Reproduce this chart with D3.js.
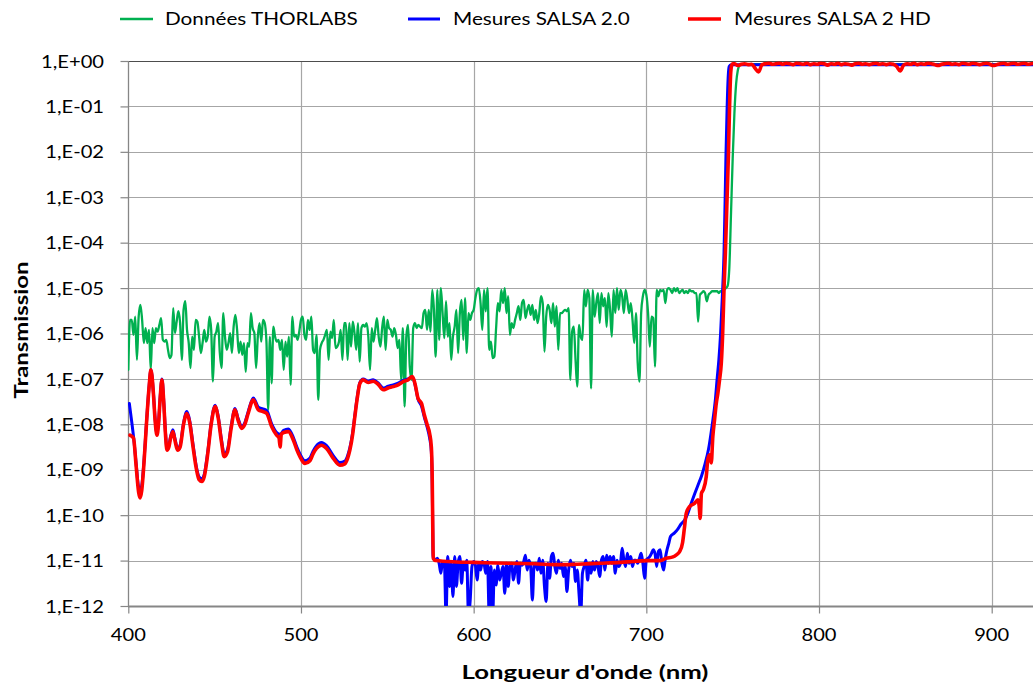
<!DOCTYPE html>
<html>
<head>
<meta charset="utf-8">
<script src="https://cdn.jsdelivr.net/npm/d3@7"></script>
<style>
  html, body { margin: 0; padding: 0; background: #ffffff; }
  svg { display: block; font-family: Lato, "Noto Sans", sans-serif; }
</style>
</head>
<body>
<svg id="chart" width="1033" height="686"></svg>
<script>
// ---------------------------------------------------------------------------
// Data (transmission given as log10 T)
// ---------------------------------------------------------------------------
const seriesNames = ["Données THORLABS", "Mesures SALSA 2.0", "Mesures SALSA 2 HD"];
const seriesColors = ["#00B050", "#0000FF", "#FF0000"];

const xTicks = [400, 500, 600, 700, 800, 900];
const yTickExponents = [0, -1, -2, -3, -4, -5, -6, -7, -8, -9, -10, -11, -12];
const yTickLabels = ["1,E+00", "1,E-01", "1,E-02", "1,E-03", "1,E-04", "1,E-05", "1,E-06",
                     "1,E-07", "1,E-08", "1,E-09", "1,E-10", "1,E-11", "1,E-12"];

// THORLABS reference curve, 1 nm sampling from 400 nm
const thorlabsStart = 400;
const thorlabsStep = 1;
const thorlabsLog = [
  -6.80,-5.70,-5.70,-6.03,-5.63,-6.58,-5.63,-5.37,-5.70,-6.21,
  -5.88,-6.21,-5.92,-6.80,-5.88,-6.21,-5.88,-5.96,-5.81,-5.66,
  -6.14,-6.18,-6.14,-6.36,-6.54,-6.47,-5.44,
  -5.99,-5.74,-5.51,-5.77,-6.58,-5.48,-5.29,-5.92,-6.21,-6.76,-6.07,-6.36,-5.70,-5.74,
  -6.07,-6.43,-6.21,-5.92,-6.18,-6.07,-5.63,-5.92,-7.06,-6.07,
  -5.96,-5.77,-6.43,-6.76,-5.55,-6.07,-6.36,-6.21,-5.99,-6.43,-5.85,-5.59,-5.92,-6.43,
  -6.18,-6.47,-6.21,-6.84,-6.21,-6.29,-5.55,-5.88,-5.99,-6.76,-6.07,
  -5.77,-6.18,-5.70,-5.77,-6.18,-7.68,-6.07,-7.10,-5.85,-6.07,-6.18,-6.14,-6.36,-6.14,
  -6.80,-6.18,-6.51,-6.07,-7.13,-5.63,-6.07,-6.03,-6.14,-5.96,-5.70,
  -5.63,-6.03,-6.14,-5.70,-5.92,-5.63,-6.36,-6.43,-6.03,-7.46,-6.36,-6.21,-6.14,-6.03,
  -5.92,-6.58,-5.96,-6.10,-5.70,-6.32,-6.29,-6.18,-5.92,-6.58,-5.77,
  -5.77,-6.58,-5.77,-6.29,-5.74,-5.99,-6.36,-5.77,-6.62,-5.88,-5.81,-5.85,-5.77,-6.07,
  -6.80,-5.88,-6.18,-5.92,-5.66,-6.07,-6.29,-5.88,-5.63,-6.36,-5.70,
  -5.88,-5.92,-6.07,-5.88,-6.03,-6.32,-6.14,-7.02,-5.88,-7.61,-6.07,-5.81,-6.73,-7.02,
  -5.88,-5.77,-5.88,-5.81,-5.85,
  -5.88,-5.55,-5.48,-5.92,-5.48,-5.96,-5.04,-5.48,-6.51,-5.04,-6.14,-5.00,-5.55,-6.10,
  -5.29,-6.07,
  -5.77,-6.58,-6.07,-5.85,-5.48,-6.43,-5.55,-5.26,-6.14,-5.22,-6.43,-5.55,-5.70,-5.55,
  -5.48,-5.22,-5.04,-5.00,-5.33,-5.92,-5.04,-5.51,-5.00,-6.36,-6.18,-6.54,
  -6.51,-5.88,-5.33,-5.51,-5.04,-5.33,-5.00,-5.55,-5.18,-6.03,-5.77,-5.88,-5.70,-5.55,
  -5.40,-5.70,-5.33,-5.26,-5.66,-5.48,-5.37,-5.59,-5.37,-5.70,-5.48,-5.77,-5.55,
  -5.18,-5.33,-6.40,-5.63,-5.37,-5.48,-5.77,-5.33,-5.85,-5.40,-6.36,-5.55,-5.55,-5.51,
  -5.48,-5.51,-5.44,-7.02,-5.96,-5.85,-6.58,-7.17,-5.81,-6.07,
  -6.14,-5.04,-5.40,-5.04,-5.22,-7.21,-5.04,-5.63,-5.33,-5.11,-5.77,-5.11,-5.40,-5.22,
  -5.85,-5.11,-5.48,-6.07,-5.04,-5.55,-5.00,-5.48,-5.04,-5.18,-5.55,-5.04,
  -5.26,-5.55,-5.33,-5.70,-6.21,-5.55,-6.65,-7.06,-5.55,-5.18,-5.04,-5.15,-5.55,-6.29,
  -5.63,-5.66,-6.73,-5.04,-5.18,-5.04,-5.07,-5.04,-5.33,-5.04,
  -5.00,-5.04,-5.11,-5.00,-5.07,-5.00,-5.11,-5.07,-5.04,-5.11,-5.07,-5.11,-5.04,-5.07,
  -5.07,-5.11,-5.11,-5.74,-5.15,-5.11,-5.07,-5.11,-5.29,-5.15,-5.11,-5.07,
  -5.07,-5.07,-5.07,-5.11,-5.07,-5.07,-5.04,-5.00,-4.96,
  -4.60,-3.40,-2.15,-1.15,-0.50,-0.20,-0.09,-0.07,-0.07
];
const thorlabsTailNm = [800, 850, 925];
const thorlabsTailLog = [-0.07, -0.07, -0.07];

// SALSA 2.0: smooth part (breakpoints)
const salsa20Nm = [
  400.6, 402, 403.1, 404.5, 405.8, 406.8, 407.8, 409, 410.5, 412, 413.1, 414.5, 415.5,
  416.6, 417.5, 418.5, 419.5, 420.5, 421.5, 422.4, 423.5, 424.5, 425.8, 427, 428.5, 430,
  432, 433.9, 435.5, 437.5, 439.5, 441, 442.6, 444, 446, 448, 450.3, 452, 454, 455.5,
  457.5, 459.5, 461.8, 463.5, 465.7, 467.5, 469.5, 472.4, 475.3, 478, 480.2, 483, 485.9,
  488, 490, 492.7, 495.6, 497.5, 499.4, 502.3, 505.2, 507, 509, 511.9, 514.8, 518.7,
  522.5, 525.4, 527, 528.3, 530, 531.2, 532.5, 534.1, 536, 538.9, 541.8, 544.7, 547.6,
  550.5, 553.4, 556.3, 559.2, 562, 564.5, 566, 567.8, 569.8, 571.5, 573, 574.5, 575.5,
  576, 576.3, 576.5
];
const salsa20Log = [
  -7.54, -7.95, -8.30, -8.85, -9.35, -9.45, -9.35, -8.85, -7.98, -7.18, -6.80, -7.28, -7.86,
  -8.20, -7.97, -7.38, -7.00, -7.47, -8.16, -8.52, -8.46, -8.27, -8.12, -8.31, -8.53, -8.46,
  -7.97, -7.72, -7.91, -8.45, -8.95, -9.16, -9.20, -9.10, -8.61, -7.97, -7.58, -7.81, -8.35, -8.66,
  -8.55, -8.06, -7.65, -7.86, -8.05, -7.96, -7.71, -7.42, -7.62, -7.66, -7.70, -7.99, -8.18,
  -8.22, -8.13, -8.10, -8.29, -8.49, -8.65, -8.80, -8.74, -8.59, -8.47, -8.40, -8.47, -8.69,
  -8.84, -8.81, -8.69, -8.52, -8.16, -7.80, -7.42, -7.08, -7.00, -7.05, -7.02, -7.09, -7.20,
  -7.16, -7.13, -7.09, -7.03, -7.00, -6.95, -7.12, -7.45, -7.60, -7.85, -8.05, -8.30, -8.60,
  -9.30, -10.30, -10.95
];
// SALSA 2.0: noisy floor, 1 nm sampling from 577 nm
const salsa20NoiseStart = 577;
const salsa20NoiseStep = 1;
const salsa20NoiseLog = [
  -10.95,-10.99,-10.95,-11.06,-11.28,
  -11.02,-11.02,-12.2,-10.91,-11.57,-11.06,-11.79,-10.91,-11.57,-11.06,-10.91,-11.50,
  -11.06,-11.21,-10.99,-12.2,-11.87,-11.13,-11.02,-11.10,-11.43,-11.06,-11.21,-11.02,
  -11.06,-11.28,-11.02,-12.2,-11.13,-12.2,-11.21,-11.54,-11.10,-11.43,-11.28,-11.13,
  -11.72,-11.06,-11.57,-11.13,-11.06,-11.43,-11.21,-11.02,-11.50,-11.06,-11.10,-11.02,
  -10.88,-11.21,-10.99,-11.13,-11.87,-11.10,-11.06,-11.21,-10.95,-11.28,-10.99,-11.57,
  -11.90,-11.06,-11.39,-10.91,-10.84,-11.13,-11.28,-10.99,-11.17,-11.06,-11.35,-11.13,-11.68,
  -11.21,-10.99,-11.13,-11.06,-11.46,-11.21,-11.72,-12.2,-11.28,-11.13,-10.99,-11.43,
  -11.06,-11.28,-11.02,-11.21,-11.02,-11.13,-11.35,-10.99,-10.91,-11.21,-10.88,-11.06,
  -10.91,-11.06,-10.91,-11.28,-10.99,-11.13,-11.06,-10.73,-10.99,-11.13,-10.84,-11.06,
  -10.91,-11.13,-10.99,-10.99,-11.06,-10.95,-10.84,-11.06,-11.39,-10.99,-10.95,-10.91,
  -10.84,-10.76,-10.84,-11.13,-10.80,-10.76,-11.06,-11.21,-10.95,-10.76,-10.62,-10.47
];
// SALSA 2.0: edge and pass band (breakpoints)
const salsa20EdgeNm = [716, 718, 720, 722, 724, 726, 728, 730, 732, 734, 736, 738, 740, 741,
  742, 743, 744, 745, 745.6, 746.1, 746.8, 747.4, 748, 749, 800, 925];
const salsa20EdgeLog = [-10.40, -10.32, -10.20, -10.12, -9.96, -9.74, -9.53, -9.33, -9.13,
  -8.87, -8.55, -8.05, -7.45, -7.00, -6.58, -6.00, -5.20, -4.20, -3.10, -2.10, -1.00, -0.35,
  -0.12, -0.08, -0.08, -0.08];

// SALSA 2 HD: breakpoints up to the pass band
const salsaHdNm = [
  401, 403, 404.5, 406, 406.8, 407.8, 409, 410.5, 412, 413.1, 414.5, 415.5, 416.6, 417.5,
  418.5, 419.5, 420.5, 421.5, 422.4, 423.5, 424.5, 425.8, 427, 428.5, 430, 432, 433.9,
  435.5, 437.5, 439.5, 441, 442.6, 444, 446, 448, 450.3, 452, 454, 455.5, 457.5, 459.5,
  461.8, 463.5, 465.7, 467.5, 469.5, 472.4, 475.3, 478, 480.2, 483, 485.9, 487.3, 487.9,
  488.6, 490, 492.7, 495.6, 497.5, 499.4, 502.3, 505.2, 507, 509, 511.9, 514.8, 518.7,
  522.5, 525.4, 527, 528.3, 530, 531.2, 532.5, 534.1, 536, 538.9, 541.8, 544.7, 547.6,
  550.5, 553.4, 556.3, 559.2, 562, 564.5, 566, 567.8, 569.8, 571.5, 573, 574.5, 575.5,
  576, 576.3, 576.6, 578, 590, 600, 620, 635, 650, 660, 673, 685, 692, 700, 708, 711.4,
  715.4, 717.2, 719.3, 721, 722, 723.1, 725, 727.9, 729.9, 730.6, 731.2, 731.9, 733,
  734.7, 735.6, 736.6, 737.6, 738.5, 739.5, 740.5, 741.4, 742.4, 743.4, 744.2, 745,
  745.8, 746.6, 747.5, 748.2, 748.8, 749.4, 750
];
const salsaHdLog = [
  -8.24, -8.30, -8.90, -9.50, -9.62, -9.45, -8.90, -8.00, -7.20, -6.80, -7.30, -7.90, -8.24,
  -8.00, -7.40, -7.02, -7.50, -8.20, -8.57, -8.50, -8.30, -8.16, -8.35, -8.57, -8.50, -8.00,
  -7.76, -7.95, -8.50, -9.00, -9.22, -9.26, -9.15, -8.65, -8.00, -7.61, -7.85, -8.40, -8.71,
  -8.60, -8.10, -7.68, -7.90, -8.09, -8.00, -7.75, -7.46, -7.68, -7.72, -7.76, -8.05, -8.24,
  -8.30, -8.50, -8.22, -8.18, -8.16, -8.35, -8.55, -8.71, -8.86, -8.80, -8.65, -8.53, -8.46,
  -8.53, -8.75, -8.90, -8.87, -8.75, -8.57, -8.20, -7.83, -7.45, -7.10, -7.02, -7.08, -7.05,
  -7.12, -7.24, -7.20, -7.17, -7.13, -7.06, -7.02, -6.95, -7.10, -7.43, -7.54, -7.80, -8.00,
  -8.20, -8.50, -9.20, -10.20, -10.95, -11.00, -11.03, -11.04, -11.06, -11.07, -11.09,
  -11.08, -11.06, -11.04, -11.02, -11.00, -11.00, -10.95, -10.92, -10.88, -10.80, -10.60,
  -10.30, -9.96, -9.81, -9.74, -9.66, -9.80, -10.07, -9.52, -9.44, -9.15, -8.78, -8.67,
  -8.85, -8.27, -7.90, -7.54, -7.32, -7.02, -6.66, -6.00, -5.00, -4.20, -3.20, -2.10,
  -1.00, -0.30, -0.10, -0.06
];
// SALSA 2 HD: pass band, 2 nm sampling from 751 nm
const salsaHdTailStart = 751;
const salsaHdTailStep = 2;
const salsaHdTailLog = [
  -0.06, -0.10, -0.07, -0.06, -0.08, -0.07, -0.16, -0.24, -0.08, -0.06, -0.05, -0.07, -0.06,
  -0.05, -0.07, -0.05, -0.06, -0.08, -0.05, -0.06, -0.07, -0.05, -0.08, -0.06, -0.07, -0.05,
  -0.06, -0.09, -0.06, -0.07, -0.05, -0.08, -0.06, -0.07, -0.09, -0.06, -0.05, -0.07, -0.06,
  -0.08, -0.06, -0.05, -0.07, -0.06, -0.08, -0.06, -0.07, -0.12, -0.22, -0.09, -0.06, -0.07,
  -0.05, -0.08, -0.06, -0.07, -0.05, -0.06, -0.08, -0.10, -0.07, -0.06, -0.05, -0.07, -0.06,
  -0.08, -0.05, -0.06, -0.07, -0.05, -0.06, -0.08, -0.06, -0.05, -0.07, -0.10, -0.08, -0.06,
  -0.05, -0.07, -0.06, -0.05, -0.07, -0.06, -0.05, -0.07, -0.06, -0.05
];

// ---------------------------------------------------------------------------
// Helpers to assemble series points
// ---------------------------------------------------------------------------
const sampled = (start, step, logs) => logs.map((v, i) => ({ nm: start + i * step, t: Math.pow(10, v) }));
const paired = (nms, logs) => nms.map((n, i) => ({ nm: n, t: Math.pow(10, logs[i]) }));

const thorlabs = sampled(thorlabsStart, thorlabsStep, thorlabsLog)
  .concat(paired(thorlabsTailNm, thorlabsTailLog));
const salsa20 = paired(salsa20Nm, salsa20Log)
  .concat(sampled(salsa20NoiseStart, salsa20NoiseStep, salsa20NoiseLog))
  .concat(paired(salsa20EdgeNm, salsa20EdgeLog));
const salsaHd = paired(salsaHdNm, salsaHdLog)
  .concat(sampled(salsaHdTailStart, salsaHdTailStep, salsaHdTailLog));

const series = [thorlabs, salsa20, salsaHd];
const lineWidths = [2.3, 3, 3.6];

// ---------------------------------------------------------------------------
// Layout
// ---------------------------------------------------------------------------
const plot = { left: 128, right: 1033, top: 61, bottom: 606 };

const svg = d3.select("#chart");

const x = d3.scaleLinear().domain([400, 900]).range([128.3, 991.7]);
const y = d3.scaleLog().domain([1e-12, 1]).range([plot.bottom, plot.top]);

// text measuring for width fitting
function measure(str, size, weight) {
  const t = svg.append("text").attr("font-size", size).attr("font-weight", weight).text(str);
  const w = t.node().getComputedTextLength();
  t.remove();
  return w;
}
function label(parent, str, px, py, o) {
  const g = parent.append("g")
    .attr("transform", `translate(${px},${py})` + (o.rotate ? ` rotate(${o.rotate})` : ""));
  const t = g.append("text")
    .text(str)
    .attr("font-size", o.size)
    .attr("font-weight", o.weight || 400)
    .attr("text-anchor", o.anchor || "start")
    .attr("dy", "0.36em")
    .attr("fill", "#000");
  if (o.sx) t.attr("transform", `scale(${o.sx},1)`);
  return t;
}

// ---------------------------------------------------------------------------
// Grid
// ---------------------------------------------------------------------------
const grid = svg.append("g");
grid.selectAll("line.v")
  .data(xTicks.filter(d => d > 400))
  .join("line")
  .attr("x1", d => Math.round(x(d)) + 0.5).attr("x2", d => Math.round(x(d)) + 0.5)
  .attr("y1", plot.top).attr("y2", plot.bottom)
  .attr("stroke", "#a6a6a6").attr("stroke-width", 1.2);

grid.selectAll("line.h")
  .data(yTickExponents.filter(e => e > -12))
  .join("line")
  .attr("x1", plot.left).attr("x2", plot.right)
  .attr("y1", e => Math.round(y(Math.pow(10, e))) + 0.5)
  .attr("y2", e => Math.round(y(Math.pow(10, e))) + 0.5)
  .attr("stroke", e => e === 0 ? "#4d4d4d" : "#a6a6a6")
  .attr("stroke-width", 1.2);

// ---------------------------------------------------------------------------
// Axes
// ---------------------------------------------------------------------------
const yAxis = svg.append("g")
  .attr("transform", `translate(${plot.left + 0.5},0)`)
  .call(d3.axisLeft(y).tickValues(yTickExponents.map(e => Math.pow(10, e))).tickSize(8).tickFormat(""));
const xAxis = svg.append("g")
  .attr("transform", `translate(0,${plot.bottom + 0.5})`)
  .call(d3.axisBottom(x).tickValues(xTicks).tickSize(7).tickFormat(""));
[yAxis, xAxis].forEach(a => {
  a.select(".domain").attr("stroke", "#868686").attr("stroke-width", 1.3);
  a.selectAll(".tick line").attr("stroke", "#868686").attr("stroke-width", 1.2);
});
xAxis.select(".domain").attr("d", `M${plot.left},0H${plot.right}`).attr("stroke-width", 1.8);
yAxis.select(".domain").attr("d", `M0,${plot.top}V${plot.bottom}`);

// ---------------------------------------------------------------------------
// Series
// ---------------------------------------------------------------------------
svg.append("clipPath").attr("id", "plotClip")
  .append("rect")
  .attr("x", plot.left).attr("y", plot.top)
  .attr("width", plot.right - plot.left).attr("height", plot.bottom - plot.top);

const line = d3.line()
  .x(d => x(d.nm))
  .y(d => y(d.t))
  .curve(d3.curveMonotoneX);

svg.append("g").attr("clip-path", "url(#plotClip)")
  .selectAll("path")
  .data(series)
  .join("path")
  .attr("d", line)
  .attr("fill", "none")
  .attr("stroke", (d, i) => seriesColors[i])
  .attr("stroke-width", (d, i) => lineWidths[i])
  .attr("stroke-linejoin", "round")
  .attr("stroke-linecap", "round");

// ---------------------------------------------------------------------------
// Text
// ---------------------------------------------------------------------------
const tickSize = 17;
const sxY = 63 / measure(yTickLabels[0], tickSize, 400);
yTickExponents.forEach((e, i) => {
  label(svg, yTickLabels[i], 104, y(Math.pow(10, e)) + 0.5, { size: tickSize, anchor: "end", sx: sxY });
});

const sxX = 35 / measure(String(xTicks[0]), tickSize, 400);
xTicks.forEach(v => {
  label(svg, String(v), x(v), 634.5, { size: tickSize, anchor: "middle", sx: sxX });
});

const titleSize = 19;
label(svg, "Longueur d'onde (nm)", 585, 672,
  { size: titleSize, weight: 700, anchor: "middle", sx: 247 / measure("Longueur d'onde (nm)", titleSize, 700) });
label(svg, "Transmission", 21, 330,
  { size: titleSize, weight: 700, anchor: "middle", rotate: -90, sx: 137 / measure("Transmission", titleSize, 700) });

// legend
const legendLine = [[120, 153], [408, 440], [688, 721]];
const legendText = [165, 453, 734];
const legendY = 19;
const sxL = 193 / measure(seriesNames[0], tickSize, 400);
const legend = svg.append("g");
seriesNames.forEach((name, i) => {
  legend.append("line")
    .attr("x1", legendLine[i][0]).attr("x2", legendLine[i][1])
    .attr("y1", legendY).attr("y2", legendY)
    .attr("stroke", seriesColors[i]).attr("stroke-width", lineWidths[i]);
  label(legend, name, legendText[i], legendY, { size: tickSize, sx: sxL });
});
</script>
</body>
</html>
